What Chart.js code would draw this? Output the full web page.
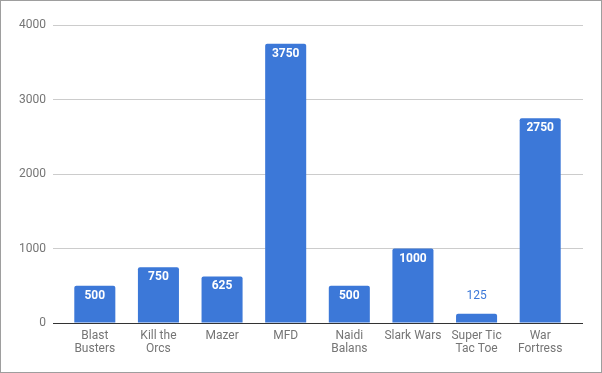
<!DOCTYPE html>
<html><head><meta charset="utf-8">
<script src="https://cdn.jsdelivr.net/npm/chart.js@4/dist/chart.umd.min.js"></script>
<style>
html,body{margin:0;padding:0;background:#fff;}
#wrap{width:602px;height:373px;box-sizing:border-box;border:1px solid #9e9e9e;background:#fff;}
canvas{display:block;}
</style></head><body>
<div id="wrap"><canvas id="c" width="600" height="371"></canvas></div>
<script>
const categories = [["Blast","Busters"],["Kill the","Orcs"],"Mazer","MFD",["Naidi","Balans"],"Slark Wars",["Super Tic","Tac Toe"],["War","Fortress"]];
const values = [500, 750, 625, 3750, 500, 1000, 125, 2750];
const yTicks = [0, 1000, 2000, 3000, 4000];

const BAR = '#3c78d8';
const TXT = '#757575';

const labelPlugin = {
  id: 'valueLabels',
  afterDatasetsDraw(chart) {
    const ctx = chart.ctx;
    const meta = chart.getDatasetMeta(0);
    ctx.save();
    ctx.textAlign = 'center';
    ctx.textBaseline = 'middle';
    meta.data.forEach((bar, i) => {
      const v = values[i];
      const h = bar.base - bar.y;
      if (h >= 24) {
        ctx.fillStyle = '#ffffff';
        ctx.font = 'bold 12px Roboto';
        ctx.fillText(String(v), bar.x, bar.y + 10);
      } else {
        ctx.fillStyle = BAR;
        ctx.font = '12px Roboto';
        ctx.fillText(String(v), bar.x, bar.y - 18);
      }
    });
    ctx.restore();
  }
};

new Chart(document.getElementById('c'), {
  type: 'bar',
  data: {
    labels: categories,
    datasets: [{
      data: values,
      backgroundColor: BAR,
      borderRadius: {topLeft: 2, topRight: 2, bottomLeft: 0, bottomRight: 0},
      borderSkipped: 'start',
      barPercentage: 0.645,
      categoryPercentage: 1.0
    }]
  },
  options: {
    responsive: false,
    animation: false,
    devicePixelRatio: 1,
    layout: {padding: {top: 24, left: 0, right: 0, bottom: 0}},
    plugins: {legend: {display: false}, tooltip: {enabled: false}},
    scales: {
      x: {
        grid: {display: false},
        border: {display: false},
        ticks: {color: TXT, font: {family: 'Roboto', size: 12, lineHeight: 1.06}, padding: -1, maxRotation: 0, autoSkip: false},
        afterFit(s) { s.height = 49; }
      },
      y: {
        min: 0, max: 4000,
        afterBuildTicks(s) { s.ticks = yTicks.map(v => ({value: v})); },
        grid: {
          color: c => (c.tick && c.tick.value === 0) ? '#333333' : '#cccccc',
          tickLength: 10, drawTicks: true
        },
        border: {display: false},
        ticks: {color: TXT, font: {family: 'Roboto', size: 12}, padding: 7, callback: v => String(v)},
        afterFit(s) { s.width = 62; }
      },
      y2: {
        position: 'right',
        min: 0, max: 4000,
        afterBuildTicks(s) { s.ticks = yTicks.map(v => ({value: v})); },
        grid: {
          color: c => (c.tick && c.tick.value === 0) ? '#333333' : '#cccccc',
          tickLength: 11, drawTicks: true, drawOnChartArea: false
        },
        border: {display: false},
        ticks: {display: false},
        afterFit(s) { s.width = 29; }
      }
    }
  },
  plugins: [labelPlugin]
});
</script>
</body></html>
